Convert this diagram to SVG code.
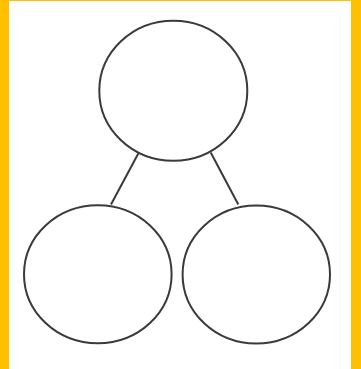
<svg xmlns="http://www.w3.org/2000/svg" width="361" height="369" viewBox="0 0 361 369">
<style>
.n{fill:none;stroke:#3a3a3a;stroke-width:2}
.c{stroke:#3a3a3a;stroke-width:2;fill:none}
</style>
<rect x="0" y="0" width="361" height="369" fill="#FFC000"/>
<rect x="9" y="1" width="342" height="368" fill="#ffffff"/>
<g id="connectors">
<line class="c" x1="138.3" y1="153.5" x2="111" y2="204.5"/>
<line class="c" x1="210.7" y1="152.5" x2="238.3" y2="204.5"/>
</g>
<g id="top"><ellipse class="n" cx="173.3" cy="90.7" rx="74" ry="70"/></g>
<g id="left"><ellipse class="n" cx="97.8" cy="274.3" rx="73.8" ry="69"/></g>
<g id="right"><ellipse class="n" cx="256.3" cy="274.5" rx="73.7" ry="69"/></g>
</svg>
